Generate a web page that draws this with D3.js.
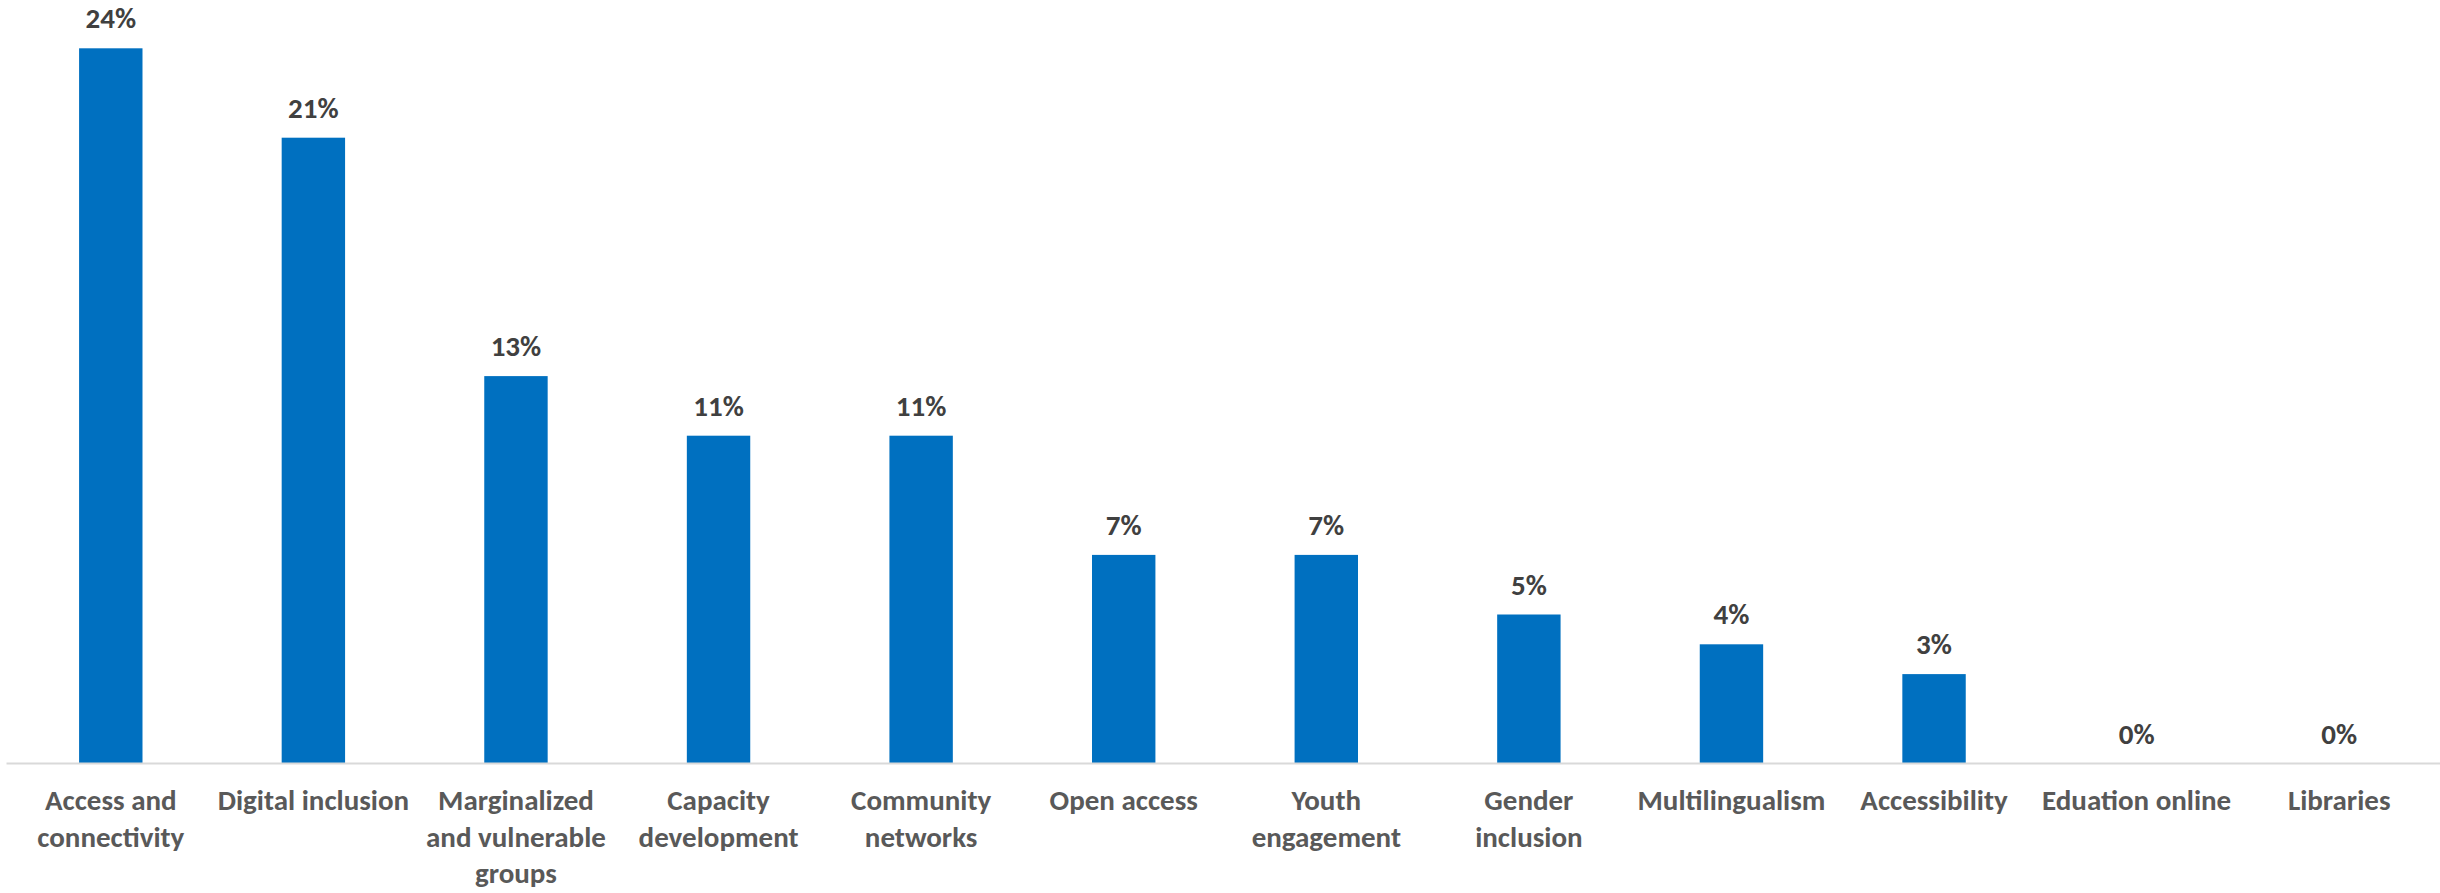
<!DOCTYPE html>
<html>
<head>
<meta charset="utf-8">
<script src="https://cdn.jsdelivr.net/npm/d3@7"></script>
<style>
  html, body { margin: 0; padding: 0; background: #ffffff; }
  svg { display: block; }
</style>
</head>
<body>
<svg id="chart" width="2440" height="893"></svg>
<script>
// ---- data ----
const categories = [
  "Access and connectivity",
  "Digital inclusion",
  "Marginalized and vulnerable groups",
  "Capacity development",
  "Community networks",
  "Open access",
  "Youth engagement",
  "Gender inclusion",
  "Multilingualism",
  "Accessibility",
  "Eduation online",
  "Libraries"
];
const values = [24, 21, 13, 11, 11, 7, 7, 5, 4, 3, 0, 0];
const labelLines = [
  ["Access and", "connectivity"],
  ["Digital inclusion"],
  ["Marginalized", "and vulnerable", "groups"],
  ["Capacity", "development"],
  ["Community", "networks"],
  ["Open access"],
  ["Youth", "engagement"],
  ["Gender", "inclusion"],
  ["Multilingualism"],
  ["Accessibility"],
  ["Eduation online"],
  ["Libraries"]
];

// ---- layout ----
const W = 2440, H = 893;
const plotLeft = 9.5, plotRight = 2440.5;
const baseY = 763.5;
const pxPerPct = 29.8;
const yMax = 25;
const fontFamily = "Calibri, Carlito, Lato, 'Open Sans', sans-serif";

const svg = d3.select("#chart");

const x = d3.scaleBand()
  .domain(categories)
  .range([plotLeft, plotRight])
  .paddingInner(0.687)
  .paddingOuter(0.3435);

const y = d3.scaleLinear()
  .domain([0, yMax])
  .range([baseY, baseY - yMax * pxPerPct]);

const data = categories.map((c, i) => ({ cat: c, v: values[i], lines: labelLines[i] }));

// bars
svg.append("g").selectAll("rect")
  .data(data)
  .join("rect")
  .attr("x", d => x(d.cat))
  .attr("y", d => y(d.v))
  .attr("width", x.bandwidth())
  .attr("height", d => y(0) - y(d.v))
  .attr("fill", "#0070C0");

// axis line (category axis)
const xAxis = d3.axisBottom(x).tickSize(0).tickFormat("");
const axisG = svg.append("g")
  .attr("transform", `translate(0,${y(0)})`)
  .call(xAxis);
axisG.select(".domain")
  .attr("stroke", "#D9D9D9")
  .attr("stroke-width", 2)
  .attr("d", `M${plotLeft - 3},0H${W}`);

// value labels
svg.append("g").selectAll("text")
  .data(data)
  .join("text")
  .attr("x", d => x(d.cat) + x.bandwidth() / 2)
  .attr("y", d => y(d.v) - 20)
  .attr("text-anchor", "middle")
  .attr("font-family", fontFamily)
  .attr("font-weight", "bold")
  .attr("font-size", 29)
  .attr("fill", "#404040")
  .text(d => d3.format(".0f")(d.v) + "%");

// category labels
const catG = svg.append("g").selectAll("text")
  .data(data)
  .join("text")
  .attr("text-anchor", "middle")
  .attr("font-family", fontFamily)
  .attr("font-weight", "bold")
  .attr("font-size", 29)
  .attr("fill", "#595959");

catG.each(function(d) {
  const t = d3.select(this);
  const cx = x(d.cat) + x.bandwidth() / 2;
  d.lines.forEach((ln, j) => {
    t.append("tspan")
      .attr("x", cx)
      .attr("y", 810 + j * 36.5)
      .text(ln);
  });
});
</script>
</body>
</html>
